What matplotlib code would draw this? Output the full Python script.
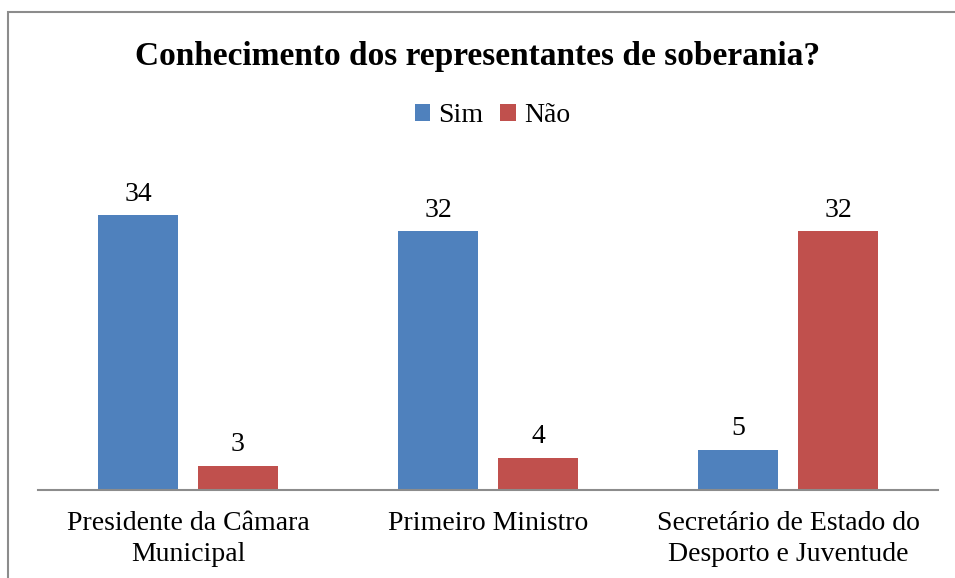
import numpy as np
import matplotlib.pyplot as plt
from matplotlib.patches import Rectangle

categorias = ['Presidente da Câmara\nMunicipal', 'Primeiro Ministro',
              'Secretário de Estado do\nDesporto e Juventude']
sim = [34, 32, 5]
nao = [3, 4, 32]

plt.rcParams['font.family'] = ['Liberation Serif', 'DejaVu Serif']

fig = plt.figure(figsize=(9.55, 5.78), dpi=100)
fig.patches.append(Rectangle((8/955, -0.1), 1.2, 1 - 12/578 + 0.1,
                             transform=fig.transFigure, fill=False,
                             edgecolor='#8c8c8c', linewidth=1.5))

ax = fig.add_axes([38/955, 88/578, 900/955, 340/578])
x = np.arange(len(categorias))
w = 0.2667
b1 = ax.bar(x - 1/6, sim, w, color='#4F81BD', label='Sim')
b2 = ax.bar(x + 1/6, nao, w, color='#C0504D', label='Não')
for bars in (b1, b2):
    for r in bars:
        ax.annotate(str(int(r.get_height())), (r.get_x() + r.get_width()/2, r.get_height()),
                    xytext=(0, 6), textcoords='offset points', ha='center', va='bottom',
                    fontsize=20)

ax.set_xlim(-0.5, 2.5)
ax.set_ylim(0, 340/8.09)
ax.set_yticks([])
ax.set_xticks(x)
ax.set_xticklabels(categorias, fontsize=20, linespacing=1.3)
ax.tick_params(axis='x', length=0, pad=15)
for s in ('top', 'right', 'left'):
    ax.spines[s].set_visible(False)
ax.spines['bottom'].set_color('#8c8c8c')
ax.spines['bottom'].set_linewidth(1.5)

fig.text(0.5, 1 - 57/578, 'Conhecimento dos representantes de soberania?',
         ha='center', va='center', fontsize=24, fontweight='bold')
fig.legend(loc='center', bbox_to_anchor=(0.5 + 15/955, 1 - 116/578), ncol=2, frameon=False,
           fontsize=20, handlelength=0.55, handleheight=0.55, handletextpad=0.3,
           columnspacing=0.6)

fig.savefig('out.png', dpi=100)
